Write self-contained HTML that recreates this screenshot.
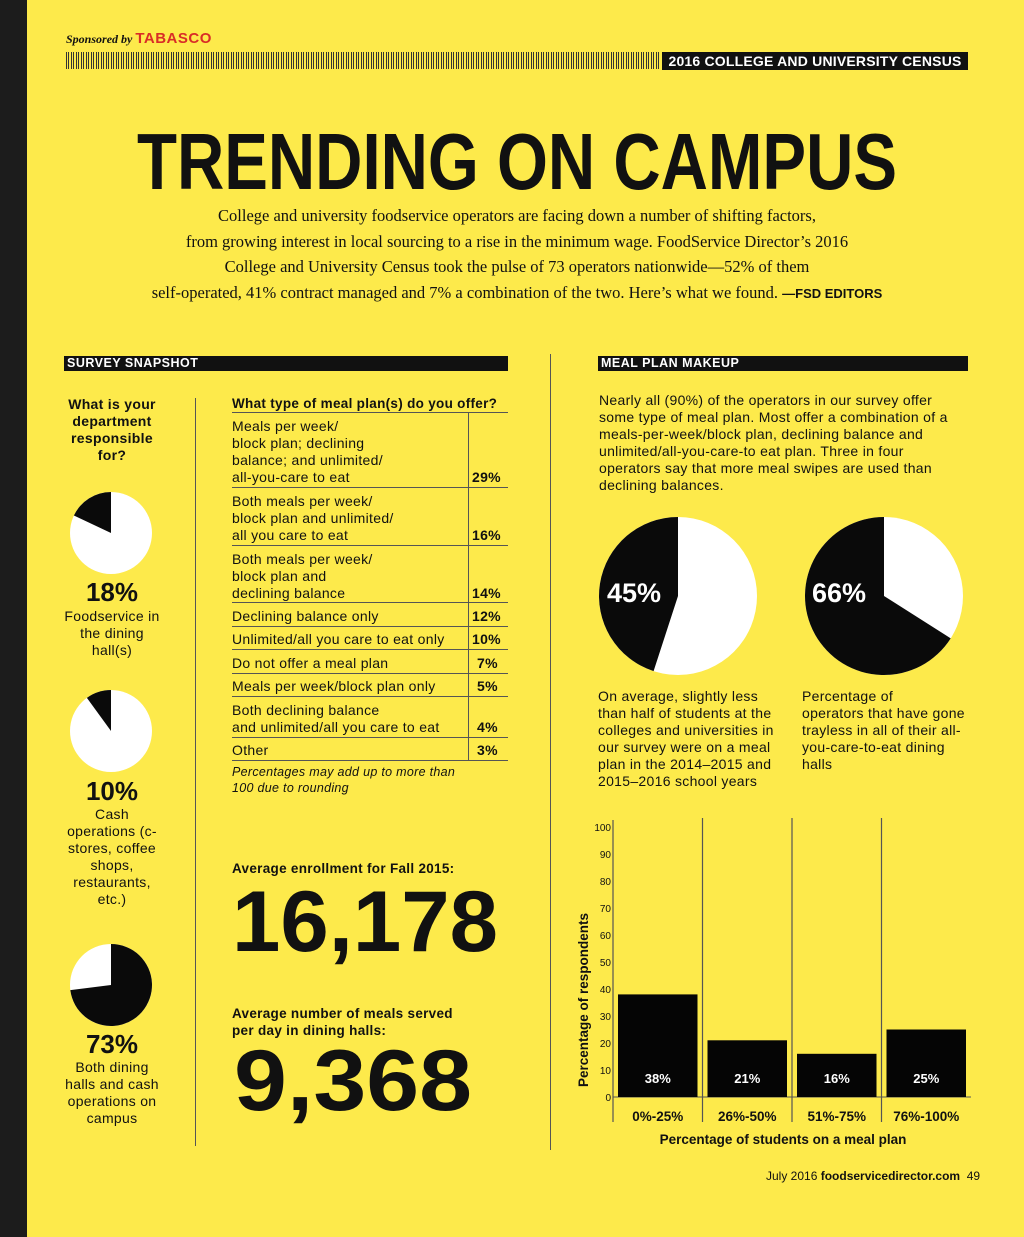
<!DOCTYPE html>
<html><head><meta charset="utf-8">
<style>
*{margin:0;padding:0;box-sizing:border-box}
body{width:1024px;height:1237px;background:#fdea4b;position:relative;overflow:hidden;font-family:"Liberation Sans",sans-serif;color:#111}
.abs{position:absolute}
.t{position:absolute;font-size:14px;line-height:17px;letter-spacing:0.3px}
.b{font-weight:bold}
.c{text-align:center}
.hl{position:absolute;height:1px;background:#555}
.serif{font-family:"Liberation Serif",serif}
</style></head><body>
<div class="abs" style="left:0;top:0;width:27px;height:1237px;background:#1c1c1c"></div>

<div class="abs serif" style="left:66px;top:30px;font-size:12px;font-style:italic;font-weight:bold">Sponsored by <span style="color:#d92d27;font-family:'Liberation Sans';font-style:normal;font-size:15px;letter-spacing:0.5px">TABASCO</span></div>
<div class="abs" style="left:66px;top:52px;width:593px;height:17px;background:repeating-linear-gradient(90deg,#333 0 1px,transparent 1px 2px,#333 2px 3px,transparent 3px 5px)"></div>
<div class="abs b" style="left:662px;top:52px;width:306px;height:18px;background:#111;color:#fff;font-size:14px;line-height:18px;text-align:center;letter-spacing:0.2px">2016 COLLEGE AND UNIVERSITY CENSUS</div>

<svg class="abs" style="left:0;top:0" width="1024" height="320">
<text x="137" y="189" font-family="Liberation Sans" font-weight="bold" font-size="80" textLength="760" lengthAdjust="spacingAndGlyphs" fill="#111">TRENDING ON CAMPUS</text>
</svg>

<div class="abs serif c" style="left:100px;top:203px;width:834px;font-size:16.5px;line-height:25.5px">College and university foodservice operators are facing down a number of shifting factors,<br>from growing interest in local sourcing to a rise in the minimum wage. FoodService Director’s 2016<br>College and University Census took the pulse of 73 operators nationwide—52% of them<br>self-operated, 41% contract managed and 7% a combination of the two. Here’s what we found. <b style="font-family:'Liberation Sans';font-size:13px">—FSD EDITORS</b></div>

<div class="abs b" style="left:64px;top:356px;width:444px;height:15px;background:#111;color:#fff;font-size:12.5px;line-height:15px;padding-left:3px;letter-spacing:0.5px">SURVEY SNAPSHOT</div>
<div class="abs b" style="left:598px;top:356px;width:370px;height:15px;background:#111;color:#fff;font-size:12.5px;line-height:15px;padding-left:3px;letter-spacing:0.5px">MEAL PLAN MAKEUP</div>

<div class="abs" style="left:550px;top:354px;width:1px;height:796px;background:#555"></div>
<div class="abs" style="left:195px;top:398px;width:1px;height:748px;background:#555"></div>

<div class="t b c" style="left:62px;top:396px;width:100px">What is your department responsible for?</div>

<svg class="abs" style="left:0;top:0" width="550" height="1237" id="leftpies"></svg>

<div class="abs b c" style="left:52px;top:577px;width:120px;font-size:26px;line-height:30px">18%</div>
<div class="t c" style="left:62px;top:608px;width:100px">Foodservice in the dining hall(s)</div>
<div class="abs b c" style="left:52px;top:776px;width:120px;font-size:26px;line-height:30px">10%</div>
<div class="t c" style="left:62px;top:806px;width:100px">Cash operations (c-stores, coffee shops, restaurants, etc.)</div>
<div class="abs b c" style="left:52px;top:1029px;width:120px;font-size:26px;line-height:30px">73%</div>
<div class="t c" style="left:62px;top:1059px;width:100px">Both dining halls and cash operations on campus</div>

<div class="t b" style="left:232px;top:395px;font-size:13.5px">What type of meal plan(s) do you offer?</div>
<div class="abs" style="left:468px;top:413px;width:1px;height:347px;background:#555"></div>
<div class="hl" style="left:232px;top:412px;width:276px"></div>
<div class="hl" style="left:232px;top:487px;width:276px"></div>
<div class="hl" style="left:232px;top:545px;width:276px"></div>
<div class="hl" style="left:232px;top:602px;width:276px"></div>
<div class="hl" style="left:232px;top:626px;width:276px"></div>
<div class="hl" style="left:232px;top:649px;width:276px"></div>
<div class="hl" style="left:232px;top:673px;width:276px"></div>
<div class="hl" style="left:232px;top:696px;width:276px"></div>
<div class="hl" style="left:232px;top:737px;width:276px"></div>
<div class="hl" style="left:232px;top:760px;width:276px"></div>

<div class="t" style="left:232px;top:418px">Meals per week/<br>block plan; declining<br>balance; and unlimited/<br>all-you-care to eat</div>
<div class="t b" style="left:472px;top:469px">29%</div>
<div class="t" style="left:232px;top:493px">Both meals per week/<br>block plan and unlimited/<br>all you care to eat</div>
<div class="t b" style="left:472px;top:527px">16%</div>
<div class="t" style="left:232px;top:551px">Both meals per week/<br>block plan and<br>declining balance</div>
<div class="t b" style="left:472px;top:585px">14%</div>
<div class="t" style="left:232px;top:608px">Declining balance only</div>
<div class="t b" style="left:472px;top:608px">12%</div>
<div class="t" style="left:232px;top:631px">Unlimited/all you care to eat only</div>
<div class="t b" style="left:472px;top:631px">10%</div>
<div class="t" style="left:232px;top:655px">Do not offer a meal plan</div>
<div class="t b" style="left:477px;top:655px">7%</div>
<div class="t" style="left:232px;top:678px">Meals per week/block plan only</div>
<div class="t b" style="left:477px;top:678px">5%</div>
<div class="t" style="left:232px;top:702px">Both declining balance<br>and unlimited/all you care to eat</div>
<div class="t b" style="left:477px;top:719px">4%</div>
<div class="t" style="left:232px;top:742px">Other</div>
<div class="t b" style="left:477px;top:742px">3%</div>
<div class="t" style="left:232px;top:765px;font-size:12.5px;line-height:15.5px;font-style:italic">Percentages may add up to more than<br>100 due to rounding</div>

<div class="t b" style="left:232px;top:860px;font-size:13.5px">Average enrollment for Fall 2015:</div>
<div class="t b" style="left:232px;top:1005px;font-size:13.5px">Average number of meals served<br>per day in dining halls:</div>
<svg class="abs" style="left:0;top:0" width="550" height="1237">
<text x="232" y="951" font-family="Liberation Sans" font-weight="bold" font-size="86" textLength="266" lengthAdjust="spacingAndGlyphs" fill="#111">16,178</text>
<text x="234" y="1110" font-family="Liberation Sans" font-weight="bold" font-size="86" textLength="238" lengthAdjust="spacingAndGlyphs" fill="#111">9,368</text>
</svg>

<div class="t" style="left:599px;top:392px;width:362px">Nearly all (90%) of the operators in our survey offer some type of meal plan. Most offer a combination of a meals-per-week/block plan, declining balance and unlimited/all-you-care-to eat plan. Three in four operators say that more meal swipes are used than declining balances.</div>

<svg class="abs" style="left:550px;top:500px" width="474" height="190" id="rightpies"></svg>
<div class="abs b" style="left:607px;top:578px;color:#fff;font-size:27px">45%</div>
<div class="abs b" style="left:812px;top:578px;color:#fff;font-size:27px">66%</div>
<div class="t" style="left:598px;top:688px;width:190px">On average, slightly less than half of students at the colleges and universities in our survey were on a meal plan in the 2014–2015 and 2015–2016 school years</div>
<div class="t" style="left:802px;top:688px;width:170px">Percentage of<br>operators that have gone trayless in all of their all-you-care-to-eat dining halls</div>

<svg class="abs" style="left:0;top:0" width="1024" height="1237" id="chart"></svg>

<div class="abs" style="left:766px;top:1169px;font-size:12px">July 2016 <b>foodservicedirector.com</b> &nbsp;49</div>

<script>
const categories=["0%-25%","26%-50%","51%-75%","76%-100%"];
const values=[38,21,16,25];
const yTicks=[0,10,20,30,40,50,60,70,80,90,100];
const leftPieValues=[18,10,73];
const rightPieValues=[45,66];

const NS="http://www.w3.org/2000/svg";
function mk(tag,attrs,parent){const e=document.createElementNS(NS,tag);for(const k in attrs)e.setAttribute(k,attrs[k]);parent.appendChild(e);return e;}
function wedge(cx,cy,r,a0,a1){const p=a=>[cx+r*Math.sin(a*Math.PI/180),cy-r*Math.cos(a*Math.PI/180)];const [x0,y0]=p(a0),[x1,y1]=p(a1);const large=(a1-a0)>180?1:0;return `M${cx},${cy}L${x0},${y0}A${r},${r} 0 ${large} 1 ${x1},${y1}Z`;}
function pie(svg,cx,cy,r,pct,name){
  const c=mk('circle',{cx:cx,cy:cy,r:r,fill:'#fff'},svg);
  
  
  const w=mk('path',{d:wedge(cx,cy,r,360-pct*3.6,360),fill:'#0a0a0a'},svg);
  
  
}
const lp=document.getElementById('leftpies');
pie(lp,111,533,41,leftPieValues[0],'pie-dining-hall');
pie(lp,111,731,41,leftPieValues[1],'pie-cash-ops');
(function(){const v=leftPieValues[2];const c=mk('circle',{cx:111,cy:985,r:41,fill:'#fff'},lp);


const w=mk('path',{d:wedge(111,985,41,0,v*3.6),fill:'#0a0a0a'},lp);

})();
const rp=document.getElementById('rightpies');
pie(rp,128,96,79,rightPieValues[0],'pie-meal-plan');
(function(){const v=rightPieValues[1];const c=mk('circle',{cx:334,cy:96,r:79,fill:'#fff'},rp);


const w=mk('path',{d:wedge(334,96,79,(100-v)*3.6,360),fill:'#0a0a0a'},rp);

})();

const svg=document.getElementById('chart');
const x0=613,y0=1097,yTop=827,colW=89.5;
const y=v=>y0-(v/100)*(y0-yTop);
const colX=i=>x0+i*colW;
for(let i=0;i<categories.length;i++){
  const l=mk('line',{x1:colX(i),x2:colX(i),y1:i==0?820:818,y2:1122,stroke:'#555','stroke-width':1.2},svg);
  
  
}
const base=mk('line',{x1:x0,x2:x0+4*colW,y1:y0,y2:y0,stroke:'#555','stroke-width':1},svg);


yTicks.forEach(t=>{const tx=mk('text',{x:x0-2,y:y(t)+4,'text-anchor':'end','font-size':10,'font-family':'Liberation Sans',fill:'#111'},svg);tx.textContent=t;

});
categories.forEach((c,i)=>{
  const bx=colX(i)+5,bw=colW-10;
  const r=mk('rect',{x:bx,y:y(values[i]),width:bw,height:y0-y(values[i]),fill:'#050505'},svg);
  
  
  const vt=mk('text',{x:bx+bw/2,y:1083,'text-anchor':'middle','font-size':13,'font-weight':'bold','font-family':'Liberation Sans',fill:'#fff'},svg);vt.textContent=values[i]+'%';
  
  
  const ct=mk('text',{x:colX(i)+colW/2,y:1121,'text-anchor':'middle','font-size':13.5,'font-weight':'bold','font-family':'Liberation Sans',fill:'#111'},svg);ct.textContent=c;
  
  
});
const xt=mk('text',{x:783,y:1144,'text-anchor':'middle','font-size':13.5,'font-weight':'bold','font-family':'Liberation Sans',fill:'#111'},svg);xt.textContent='Percentage of students on a meal plan';


const yt=mk('text',{x:0,y:0,'text-anchor':'middle','font-size':13.5,'font-weight':'bold','font-family':'Liberation Sans',fill:'#111',transform:'translate(588,1000) rotate(-90)'},svg);yt.textContent='Percentage of respondents';


</script>
</body></html>
